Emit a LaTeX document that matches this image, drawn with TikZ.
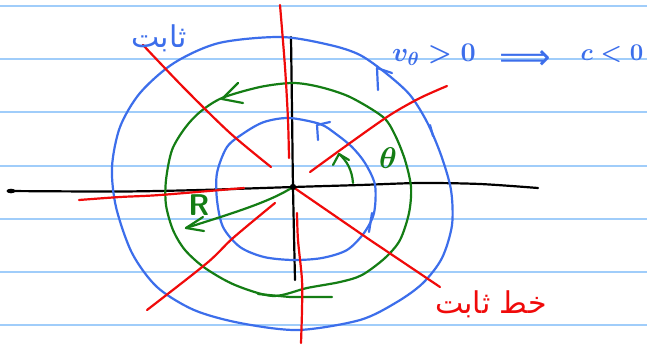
\RequirePackage{fix-cm}
\documentclass[tikz,border=0pt]{standalone}
\usepackage{fontspec}
\newfontfamily\arabicfont[Script=Arabic]{DejaVu Sans}
\newfontfamily\symbolfont{DejaVu Sans}
\TeXXeTstate=1
\definecolor{paper}{RGB}{160,205,250}
\definecolor{pblue}{RGB}{60,110,235}
\definecolor{pred}{RGB}{240,10,10}
\definecolor{pgreen}{RGB}{20,125,20}
\begin{document}
\begin{tikzpicture}[x=1pt,y=-1pt,
  pen/.style={line width=2.2pt,line cap=round,line join=round},
  bluepen/.style={pen,draw=pblue},
  redpen/.style={pen,draw=pred},
  greenpen/.style={pen,draw=pgreen},
  blackpen/.style={pen,draw=black},
  ruling/.style={draw=paper,line width=2pt},
  lbl/.style={inner sep=0pt}]
\useasboundingbox (0,0) rectangle (647,346);
\fill[white] (0,0) rectangle (647,346);
% lined paper
\foreach \y in {5.5,59,112.2,165.5,218.7,272,325.2}
  \draw[ruling] (0,\y) -- (647,\y);
\coordinate (O) at (293,187);
% axes
\draw[blackpen] plot[smooth] coordinates {(8,191) (120,191.5) (200,190) (293,187) (360,185) (420,183) (480,184) (538,188)};
\draw[blackpen] plot[smooth] coordinates {(291,37) (292,110) (293,187) (295,280)};
\fill (11,191) ellipse (4.5 and 2.3);
% blue streamlines
\draw[bluepen] plot[smooth cycle] coordinates {(281,37) (330,45) (360,55) (387,74) (410,95) (427,122) (441,155) (451,190) (452,225) (442,258) (423,283) (397,302) (360,320) (298,330) (240,323) (194,310) (157,287) (132,253) (116,207) (112,167) (120,127) (140,93) (174,63) (219,43)};
\draw[bluepen] plot[smooth cycle] coordinates {(289,118) (320,124) (336,134) (352,147) (365,163) (375,185) (374,213) (364,233) (347,250) (322,258) (293,260) (264,257) (240,247) (223,227) (217,200) (217,173) (227,147) (244,133) (264,122)};
% blue arrows
\coordinate (ba1) at (377,68);
\draw[bluepen] (378,90) -- (ba1) -- (392,73);
\coordinate (ba2) at (317,125);
\draw[bluepen] (318,140) -- (ba2) -- (330,122);
\draw[bluepen] (430,125) -- (433,136);
\draw[bluepen] (372,213) -- (369,232);
% green circle
\draw[greenpen] plot[smooth cycle] coordinates {(293,83) (260,87) (222,98) (200,112) (185,128) (172,150) (166,180) (166,205) (173,230) (185,250) (205,268) (235,285) (273,296) (307,288) (340,282) (362,275) (385,258) (400,240) (409,213) (411,187) (405,160) (395,135) (383,117) (350,97) (320,87)};
\coordinate (ga1) at (222,99);
\draw[greenpen] (238,83) -- (ga1) -- (243,103);
\draw[greenpen] (258,294) -- (290,297) -- (332,297);
% green angle theta
\coordinate (thA) at (353,183);
\coordinate (thB) at (339,154);
\draw[greenpen] (thA) .. controls (352,170) and (347,161) .. (thB);
\draw[greenpen] (333,165) -- (thB) -- (349,160);
% green R arrow
\coordinate (Rtip) at (186,228);
\draw[greenpen] (O) .. controls (270,202) and (230,214) .. (Rtip);
\draw[greenpen] (203,217) -- (Rtip) -- (204,231);
% red equipotential lines
\draw[redpen] plot[smooth] coordinates {(143,45) (185,89) (230,133) (271,167)};
\draw[redpen] plot[smooth] coordinates {(280,5) (285,67) (288,120) (289,158)};
\draw[redpen] plot[smooth] coordinates {(310,172) (350,143) (390,115) (420,98) (447,86)};
\draw[redpen] plot[smooth] coordinates {(79,200) (120,197) (160,195) (244,188)};
\draw[redpen] plot[smooth] coordinates {(275,203) (233,238) (207,263) (147,310)};
\draw[redpen] plot[smooth] coordinates {(297,213) (298,240) (302,280) (302,310) (301,343)};
\draw[redpen] (O) -- (370,240) -- (440,287);
\fill (O) circle (3.2);
% labels
\node[lbl,text=pgreen,font=\fontsize{30}{30}\selectfont\boldmath] (th) at (388,158) {$\theta$};
\node[lbl,text=pgreen,font=\fontsize{30}{30}\selectfont\sffamily\bfseries] (R) at (199,205) {R};
\node[lbl,text=pblue,font=\fontsize{27}{27}\selectfont\boldmath] (vt) at (434,55) {$v_\theta>0$};
\node[lbl,text=pblue,font=\symbolfont\fontsize{36}{36}\selectfont] (impl) at (525,60) {⟹};
\node[lbl,text=pblue,font=\fontsize{24}{24}\selectfont\boldmath] (cc) at (612,54) {$c<0$};
\node[lbl,text=pblue,font=\arabicfont\fontsize{30}{30}\selectfont] (lblA) at (159,38) {\beginR ثابت\endR};
\node[lbl,text=pred,font=\arabicfont\fontsize{30}{30}\selectfont] (lblB) at (491,304) {\beginR خط ثابت\endR};
\end{tikzpicture}
\end{document}
